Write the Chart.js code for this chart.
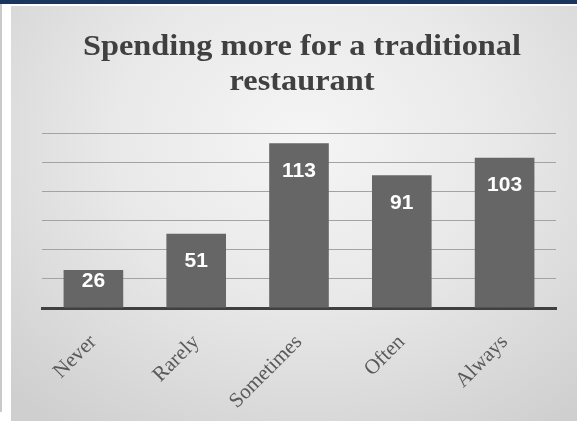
<!DOCTYPE html>
<html>
<head>
<meta charset="utf-8">
<script src="https://cdn.jsdelivr.net/npm/chart.js@4.4.1/dist/chart.umd.min.js"></script>
<style>
  html, body { margin: 0; padding: 0; background: #fff; }
  body { width: 577px; height: 421px; position: relative; overflow: hidden; }
  #band { position: absolute; left: 0; top: 0; width: 577px; height: 4px; background: #1b365d; }
  #edge { position: absolute; left: 0; top: 4px; width: 2px; height: 408px; background: #c9c9c9; }
  #panel {
    position: absolute; left: 11px; top: 6px; width: 566px; height: 415px;
    background: radial-gradient(ellipse 75% 85% at 52% 32%, #f5f5f5 0%, #e9e9e9 45%, #d6d6d6 85%, #cfcfcf 100%);
  }
  #chart { position: absolute; left: 0; top: 0; }
</style>
</head>
<body>
<div id="band"></div>
<div id="edge"></div>
<div id="panel"><canvas id="chart" width="566" height="415"></canvas></div>
<script>
const titleLines = ['Spending more for a traditional', 'restaurant'];
const categories = ['Never', 'Rarely', 'Sometimes', 'Often', 'Always'];
const counts = [26, 51, 113, 91, 103];
const yTicks = [0, 20, 40, 60, 80, 100, 120];

// two-line heading, stretched a little sideways to get the wide Cambria look
const heading = {
  id: 'heading',
  beforeDraw(chart) {
    const ctx = chart.ctx;
    ctx.save();
    ctx.fillStyle = '#404040';
    ctx.font = 'bold 29px "Liberation Serif", serif';
    ctx.textAlign = 'center';
    ctx.textBaseline = 'alphabetic';
    const stretch = 438 / ctx.measureText(titleLines[0]).width;
    ctx.translate(291, 0);
    ctx.scale(stretch, 1);
    ctx.fillText(titleLines[0], 0, 49);
    ctx.fillText(titleLines[1], 0, 84);
    ctx.restore();
  }
};

// value labels inside the top of each bar
const valueLabels = {
  id: 'valueLabels',
  afterDatasetsDraw(chart) {
    const ctx = chart.ctx;
    const meta = chart.getDatasetMeta(0);
    ctx.save();
    ctx.fillStyle = '#ffffff';
    ctx.font = 'bold 21px "Liberation Sans", sans-serif';
    ctx.textAlign = 'center';
    ctx.textBaseline = 'middle';
    meta.data.forEach((bar, i) => {
      const y = Math.min(bar.y + 27.5, bar.base - 26);
      ctx.fillText(String(counts[i]), bar.x, y);
    });
    ctx.restore();
  }
};

new Chart(document.getElementById('chart'), {
  type: 'bar',
  data: {
    labels: categories,
    datasets: [{
      data: counts,
      backgroundColor: '#666666',
      borderWidth: 0,
      categoryPercentage: 0.58,
      barPercentage: 1
    }]
  },
  options: {
    responsive: false,
    animation: false,
    events: [],
    layout: { padding: { top: 127, left: 31, right: 21, bottom: 0 } },
    plugins: {
      legend: { display: false },
      title: { display: false },
      tooltip: { enabled: false }
    },
    scales: {
      x: {
        z: 1,
        grid: { display: false },
        border: { color: '#404040', width: 3 },
        ticks: {
          color: '#595959',
          font: { family: '"Liberation Serif", serif', size: 21 },
          minRotation: 45,
          maxRotation: 45,
          padding: 14
        },
        afterFit(scale) { scale.height = 113; }
      },
      y: {
        min: yTicks[0],
        max: yTicks[yTicks.length - 1],
        afterBuildTicks(scale) { scale.ticks = yTicks.map(v => ({ value: v })); },
        ticks: { display: false },
        border: { display: false },
        grid: { color: '#a3a3a3', lineWidth: 1, drawTicks: false },
        afterFit(scale) { scale.width = 0; }
      }
    }
  },
  plugins: [heading, valueLabels]
});
</script>
</body>
</html>
